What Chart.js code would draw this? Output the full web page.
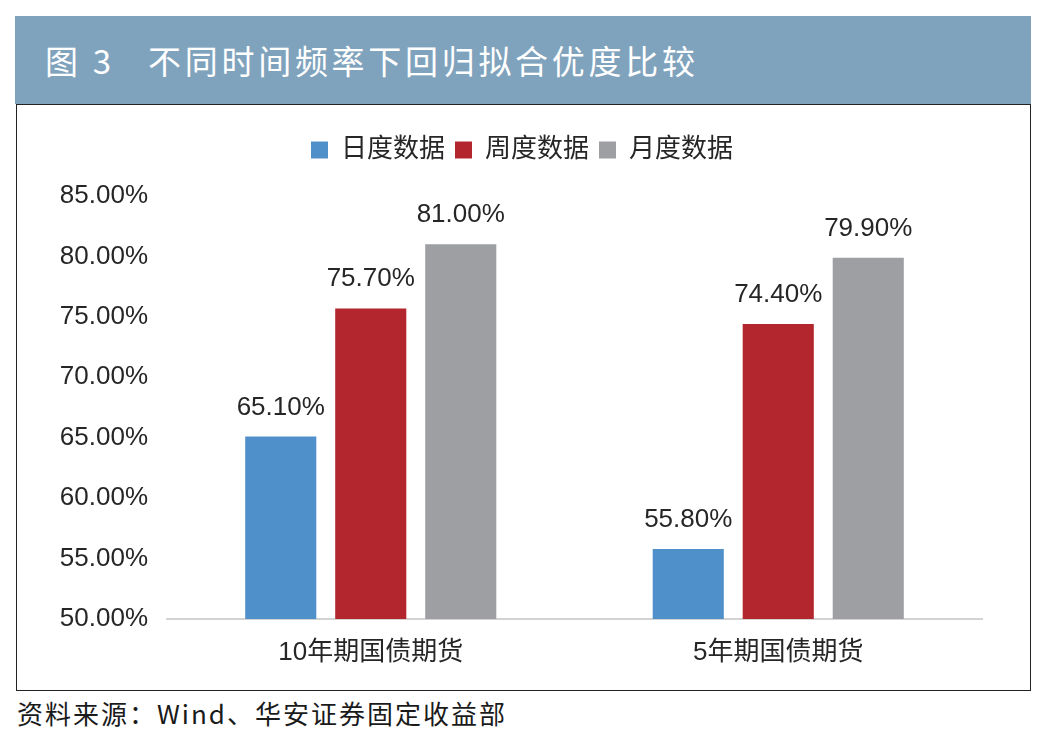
<!DOCTYPE html>
<html>
<head>
<meta charset="utf-8">
<script src="https://cdn.jsdelivr.net/npm/chart.js@4.4.1/dist/chart.umd.min.js"></script>
<style>
  html, body { margin: 0; padding: 0; background: #ffffff; width: 1042px; height: 751px; overflow: hidden; }
  #titlebar { position: absolute; left: 15px; top: 16px; width: 1016px; height: 88px; background: #7fa3bd; }
  #titletext { position: absolute; left: 45px; top: 40px; color: #ffffff; font-family: "Noto Sans CJK SC", sans-serif; font-size: 33px; line-height: 40px; letter-spacing: 3.7px; white-space: pre; }
  #frame { position: absolute; left: 16px; top: 104px; width: 1015px; height: 587px; box-sizing: border-box; border: 1.5px solid #222222; }
  #source { position: absolute; left: 17px; top: 696px; color: #1a1a1a; font-family: "Noto Sans CJK SC", sans-serif; font-size: 26px; line-height: 34px; letter-spacing: 2px; white-space: pre; }
  #c { position: absolute; left: 0; top: 0; z-index: 2; }
</style>
</head>
<body>
<div id="titlebar"></div>
<div id="titletext">图 3   不同时间频率下回归拟合优度比较</div>
<div id="frame"></div>
<div id="source">资料来源：Wind、华安证券固定收益部</div>
<canvas id="c" width="1042" height="751"></canvas>
<script>
// ---- data ----
const categories = ['10年期国债期货', '5年期国债期货'];
const seriesNames = ['日度数据', '周度数据', '月度数据'];
const dailyValues = [65.1, 55.8];
const weeklyValues = [75.7, 74.4];
const monthlyValues = [81.0, 79.9];
const yTickMin = 50;
const yTickMax = 85;
const yTickStep = 5;

const seriesValues = [dailyValues, weeklyValues, monthlyValues];
const seriesColors = ['#5090ca', '#b4262e', '#9d9fa2'];
const FONT = '"Liberation Sans", "Noto Sans CJK SC", sans-serif';
const TEXT = '#262626';

const legendGap = {
  id: 'legendGap',
  beforeLayout(chart) {
    const lg = chart.legend;
    if (lg && !lg._gapWrapped) {
      const origFit = lg.fit;
      lg.fit = function () { origFit.call(this); this.height += 23; };
      const origDraw = lg.draw;
      lg.draw = function () {
        const ctx = this.ctx;
        ctx.save();
        ctx.translate(31, 0);
        origDraw.apply(this, arguments);
        ctx.restore();
      };
      lg._gapWrapped = true;
    }
  }
};

const valueLabels = {
  id: 'valueLabels',
  afterDatasetsDraw(chart) {
    const ctx = chart.ctx;
    ctx.save();
    ctx.font = '26px ' + FONT;
    ctx.fillStyle = TEXT;
    ctx.textAlign = 'center';
    ctx.textBaseline = 'alphabetic';
    chart.data.datasets.forEach((ds, i) => {
      const meta = chart.getDatasetMeta(i);
      meta.data.forEach((bar, j) => {
        ctx.fillText(ds.data[j].toFixed(2) + '%', bar.x, bar.y - 22);
      });
    });
    ctx.restore();
  }
};

new Chart(document.getElementById('c'), {
  type: 'bar',
  data: {
    labels: categories,
    datasets: seriesNames.map((name, i) => ({
      label: name,
      data: seriesValues[i],
      backgroundColor: seriesColors[i],
      borderWidth: 0,
      categoryPercentage: 0.6626,
      barPercentage: 0.79
    }))
  },
  options: {
    responsive: false,
    animation: false,
    devicePixelRatio: 1,
    layout: { padding: { left: 0, right: 60, top: 127, bottom: 0 } },
    plugins: {
      tooltip: { enabled: false },
      legend: {
        position: 'top',
        labels: {
          boxWidth: 17,
          boxHeight: 17,
          padding: 10,
          color: TEXT,
          font: { family: FONT, size: 26 }
        }
      }
    },
    scales: {
      x: {
        grid: { display: false, drawTicks: false },
        border: { display: true, color: '#d3d3d3', width: 2 },
        ticks: { color: TEXT, font: { family: FONT, size: 26 }, padding: 18 },
        afterFit(scale) { scale.height = 132; }
      },
      y: {
        min: yTickMin,
        max: yTickMax,
        grid: { display: false, drawTicks: false },
        border: { display: false },
        ticks: {
          stepSize: yTickStep,
          color: TEXT,
          font: { family: FONT, size: 26 },
          padding: 19,
          callback: v => v.toFixed(2) + '%'
        },
        afterFit(scale) { scale.width = 167; }
      }
    }
  },
  plugins: [legendGap, valueLabels]
});
</script>
</body>
</html>
